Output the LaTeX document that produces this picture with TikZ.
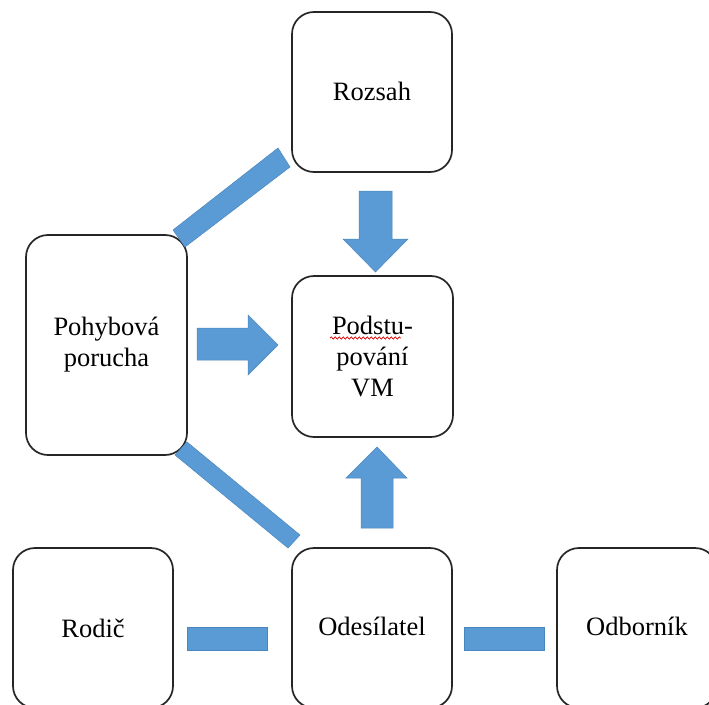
\documentclass[tikz,border=0pt]{standalone}
\usepackage{fontspec}
\setmainfont{Liberation Serif}
\usetikzlibrary{decorations.pathmorphing}
\definecolor{barblue}{HTML}{5B9BD5}
\definecolor{baredge}{HTML}{4A86BE}
\definecolor{boxline}{HTML}{262626}
\begin{document}
\begin{tikzpicture}[x=1pt,y=-1pt,
  box/.style={draw=boxline,line width=1.7pt,rounded corners=22pt,fill=white,
    align=center,inner sep=0pt,font=\fontsize{26.5}{31}\selectfont},
  bar/.style={fill=barblue,draw=baredge,line width=0.5pt,line join=miter}]
\useasboundingbox (0,0) rectangle (709,704);
\clip (0,0) rectangle (709,704);
\fill[white] (0,0) rectangle (709,704);
% boxes
\node[box,minimum width=160pt,minimum height=160pt] (roz) at (372,92) {\raisebox{2pt}{Rozsah}};
\node[box,minimum width=161pt,minimum height=161pt] (pod) at (372.5,356.5) {Podstu-\\pování\\VM};
\node[box,minimum width=161pt,minimum height=220pt] (poh) at (106.5,345) {Pohybová\\porucha};
\node[box,minimum width=160pt,minimum height=160pt] (rod) at (93,628) {Rodič};
\node[box,minimum width=160pt,minimum height=160pt] (ode) at (372,628) {\raisebox{4pt}{Odesílatel}};
\node[box,minimum width=160pt,minimum height=160pt] (odb) at (637,628) {\raisebox{4pt}{Odborník}};
% spell-check underline
\draw[red!85!black,line width=0.7pt,decorate,decoration={snake,segment length=4pt,amplitude=1.1pt}]
  (330,338) -- (401,338);
% diagonal bars
\draw[bar] (173,230) -- (185,247) -- (290,167) -- (278,148) -- cycle;
\draw[bar] (175,455) -- (187,442) -- (300,535) -- (288,548) -- cycle;
% horizontal bars
\draw[bar] (187,627) rectangle (267,650);
\draw[bar] (464,627) rectangle (544,650);
% right arrow
\draw[bar] (197,328) -- (248,328) -- (248,315) -- (278,345) -- (248,375) -- (248,360) -- (197,360) -- cycle;
% down arrow
\draw[bar] (359,191) -- (392,191) -- (392,239) -- (408,239) -- (375.5,272) -- (343,239) -- (359,239) -- cycle;
% up arrow
\draw[bar] (361,528) -- (393,528) -- (393,478) -- (407,478) -- (377,447) -- (346,478) -- (361,478) -- cycle;
\end{tikzpicture}
\end{document}
